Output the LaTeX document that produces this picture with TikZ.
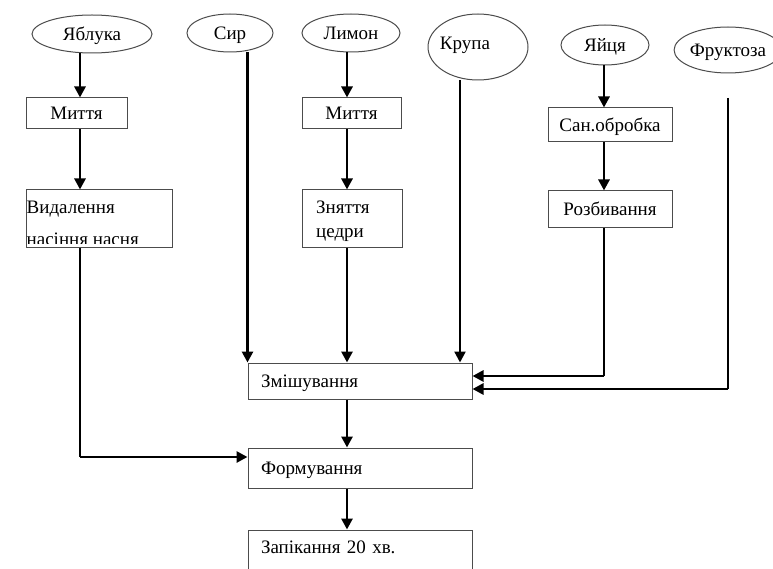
\documentclass[tikz,border=0pt]{standalone}
\usepackage{fontspec}
\setmainfont{Liberation Serif}
\usetikzlibrary{arrows.meta,shapes.geometric,calc}
\begin{document}
\begin{tikzpicture}[x=1pt,y=-1pt,
  txt/.style={font=\fontsize{19}{23}\selectfont},
  one/.style={text height=12.6pt, text depth=0pt},
  lbl/.style={txt, anchor=base west, inner sep=0pt},
  box/.style={draw=black!70, line width=1pt, rectangle, inner sep=0pt, txt},
  wbox/.style={box, one, minimum width=224, text width=198, inner xsep=13, align=left},
  ov/.style={draw=black!70, line width=1pt, ellipse, inner sep=0pt, txt, one},
  arr/.style={line width=2.8pt, -{Triangle[length=11pt,width=11pt]}},
  thn/.style={line width=1.2pt}]
\clip (0,0) rectangle (773,569);
\fill[white] (0,0) rectangle (773,569);
% ingredients
\node[ov, minimum width=120, minimum height=38] (yab) at (92,34) {Яблука};
\node[ov, minimum width=86, minimum height=38] (syr) at (230,33) {Сир};
\node[ov, minimum width=98, minimum height=38] (lym) at (351,33) {Лимон};
\node[ov, minimum width=100, minimum height=66] (krup) at (478,47) {};
\node[txt, one, inner sep=0pt] (krupt) at (465,43) {Крупа};
\node[ov, minimum width=88, minimum height=40] (yaj) at (605,45) {Яйця};
\node[ov, minimum width=106, minimum height=46] (fruk) at (728,50) {Фруктоза};
% boxes
\node[box, one, minimum width=101, minimum height=31] (myt1) at (76.5,113.5) {Миття};
\node[box, minimum width=146, minimum height=58] (vyd) at (99,219) {};
\begin{scope}
  \clip (26,190) rectangle (172,243.5);
  \node[lbl] (vydt1) at (26.5,214) {Видалення};
  \node[lbl] (vydt2) at (26.5,246) {насіння насня};
\end{scope}
\node[box, one, minimum width=99, minimum height=31] (myt2) at (351.5,113.5) {Миття};
\node[box, minimum width=100, minimum height=58] (znyat) at (352,219) {};
\node[lbl] (znyat1) at (316,214) {Зняття};
\node[lbl] (znyat2) at (316,237) {цедри};
\node[box, one, minimum width=124, minimum height=34] (san) at (610,125) {Сан.обробка};
\node[box, one, minimum width=124, minimum height=37] (rozb) at (610,209.5) {Розбивання};
\node[wbox, minimum height=36] (zmish) at (360,381) {Змішування};
\node[wbox, minimum height=40] (form) at (360,468) {Формування};
\node[wbox, minimum height=44, text depth=10pt] (zapik) at (360,552) {Запікання 20 хв.};
% helper coordinates
\coordinate (cA) at (80,0);
\coordinate (cL) at (347,0);
\coordinate (cK) at (460,0);
\coordinate (cY) at (604,0);
\coordinate (cF) at (0,457);
\coordinate (cR) at (0,376);
\coordinate (cQ) at (0,389);
\coordinate (fk) at (728,98);
% connectors
\draw[arr] (yab.south -| cA) -- (myt1.north -| cA);
\draw[arr] (myt1.south -| cA) -- (vyd.north -| cA);
\draw[thn] (vyd.south -| cA) -- (cA |- cF);
\draw[arr] (cA |- cF) -- (form.west |- cF);
\draw[arr] (syr.south -| zmish.west) -- (zmish.north west);
\draw[arr] (lym.south -| cL) -- (myt2.north -| cL);
\draw[arr] (myt2.south -| cL) -- (znyat.north -| cL);
\draw[arr] (znyat.south -| cL) -- (zmish.north -| cL);
\draw[arr, line width=2.3pt] (krup.south -| cK) -- (zmish.north -| cK);
\draw[arr] (yaj.south -| cY) -- (san.north -| cY);
\draw[arr] (san.south -| cY) -- (rozb.north -| cY);
\draw[thn] (rozb.south -| cY) -- (cY |- cR);
\draw[arr] (cY |- cR) -- (zmish.east |- cR);
\draw[thn] (fk) -- (fk |- cQ);
\draw[arr] (fk |- cQ) -- (zmish.east |- cQ);
\draw[arr] (zmish.south -| cL) -- (form.north -| cL);
\draw[arr] (form.south -| cL) -- (zapik.north -| cL);
\end{tikzpicture}
\end{document}
